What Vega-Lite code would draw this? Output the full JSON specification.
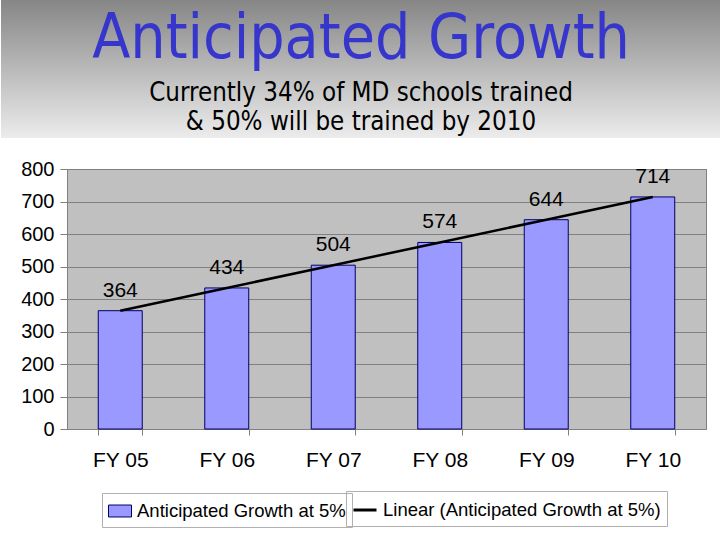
{
  "$schema": "https://vega.github.io/schema/vega-lite/v6.json",
  "background": "white",
  "padding": 0,
  "spacing": 20,
  "config": {
    "font": "Liberation Sans",
    "view": {"stroke": null}
  },
  "vconcat": [
    {
      "width": 588,
      "height": 138,
      "layer": [
        {
          "data": {"values": [{}]},
          "mark": {
            "type": "rect",
            "fill": {
              "gradient": "linear",
              "x1": 0, "y1": 0, "x2": 0, "y2": 1,
              "stops": [
                {"offset": 0, "color": "#868686"},
                {"offset": 1, "color": "#ececec"}
              ]
            }
          },
          "encoding": {
            "x": {"datum": 0, "type": "quantitative", "scale": {"domain": [0, 1], "range": [-66, 654], "nice": false}, "axis": null},
            "x2": {"datum": 1}
          }
        },
        {
          "data": {"values": [
            {"kind": "title", "line": "Anticipated Growth"},
            {"kind": "subtitle", "line": "Currently 34% of MD schools trained\n& 50% will be trained by 2010"}
          ]},
          "layer": [
            {
              "transform": [{"filter": "datum.kind === 'title'"}],
              "mark": {"type": "text", "font": "DejaVu Sans Condensed, DejaVu Sans", "fontSize": 62, "color": "#3636CC", "baseline": "alphabetic"},
              "encoding": {
                "y": {"field": "kind", "type": "ordinal", "sort": ["title", "subtitle"], "scale": {"range": [58, 101], "padding": 0}, "axis": null},
                "text": {"field": "line"}
              }
            },
            {
              "transform": [{"filter": "datum.kind === 'subtitle'"}],
              "mark": {"type": "text", "font": "DejaVu Sans Condensed, DejaVu Sans", "fontSize": 25.7, "color": "black", "baseline": "alphabetic", "lineBreak": "\n", "lineHeight": 29},
              "encoding": {
                "y": {"field": "kind", "type": "ordinal", "sort": ["title", "subtitle"], "axis": null},
                "text": {"field": "line"}
              }
            }
          ]
        }
      ]
    },
    {
      "width": 639,
      "height": 260,
      "view": {"fill": "#C0C0C0", "stroke": "#808080"},
      "data": {"values": [
        {"year": "FY 05", "schools": 364},
        {"year": "FY 06", "schools": 434},
        {"year": "FY 07", "schools": 504},
        {"year": "FY 08", "schools": 574},
        {"year": "FY 09", "schools": 644},
        {"year": "FY 10", "schools": 714}
      ]},
      "encoding": {
        "x": {
          "field": "year", "type": "nominal", "sort": null,
          "scale": {"paddingInner": 0.587, "paddingOuter": 0.2935},
          "axis": {
            "title": null, "labelAngle": 0, "labelFontSize": 21, "labelColor": "black",
            "labelPadding": 14, "tickBand": "extent", "tickSize": 6, "tickColor": "#808080",
            "domainColor": "#808080"
          }
        },
        "y": {
          "field": "schools", "type": "quantitative",
          "scale": {"domain": [0, 800]},
          "axis": {
            "title": null, "values": [0, 100, 200, 300, 400, 500, 600, 700, 800],
            "grid": true, "gridColor": "#808080", "domain": false,
            "tickColor": "#808080", "tickSize": 7, "labelFontSize": 20, "labelColor": "black",
            "labelPadding": 6, "minExtent": 66
          }
        }
      },
      "layer": [
        {
          "mark": {"type": "bar", "stroke": "#000066", "strokeWidth": 1},
          "encoding": {
            "fill": {
              "datum": "Anticipated Growth at 5%", "type": "nominal",
              "scale": {"range": ["#9999FF"]},
              "legend": {
                "title": null, "orient": "none", "legendX": 35, "legendY": 493,
                "padding": 6, "strokeColor": "#b0b0b0",
                "labelFontSize": 18.5, "labelColor": "black", "labelLimit": 400,
                "symbolType": "M-1,-0.52H1V0.52H-1Z", "symbolSize": 529, "labelOffset": 5,
                "symbolStrokeColor": "#000066", "symbolStrokeWidth": 1
              }
            }
          }
        },
        {
          "mark": {"type": "line", "strokeWidth": 2.5},
          "encoding": {
            "stroke": {
              "datum": "Linear (Anticipated Growth at 5%)", "type": "nominal",
              "scale": {"range": ["#000000"]},
              "legend": {
                "title": null, "orient": "none", "legendX": 279, "legendY": 491,
                "padding": 6, "strokeColor": "#b0b0b0",
                "labelFontSize": 18.5, "labelColor": "black", "labelLimit": 400,
                "symbolSize": 529, "symbolStrokeWidth": 3, "labelOffset": 5
              }
            }
          }
        },
        {
          "mark": {"type": "text", "baseline": "bottom", "dy": -10, "fontSize": 21, "color": "black"},
          "encoding": {"text": {"field": "schools"}}
        }
      ]
    }
  ]
}
